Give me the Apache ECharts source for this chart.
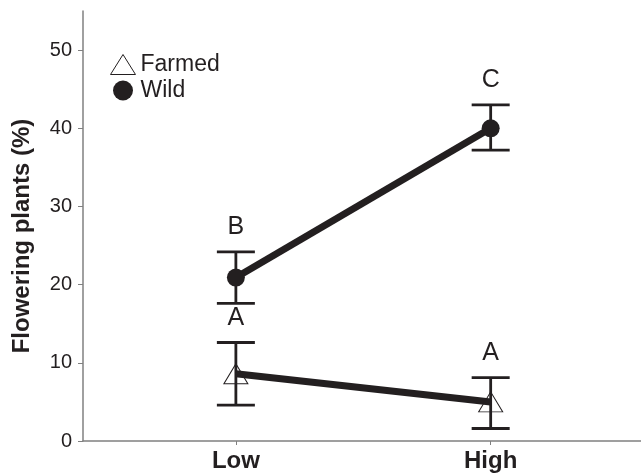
<!DOCTYPE html>
<html>
<head>
<meta charset="utf-8">
<script src="https://cdn.jsdelivr.net/npm/echarts@6/dist/echarts.min.js"></script>
<style>html,body{margin:0;padding:0;background:#fff}#c{width:641px;height:475px}</style>
</head>
<body>
<div id="c"></div>
<script>
var categories = ['Low', 'High'];
var farmedMean = [8.6, 5.0];
var farmedLow = [4.6, 1.6];
var farmedHigh = [12.6, 8.1];
var farmedLetters = ['A', 'A'];
var wildMean = [20.9, 40.0];
var wildLow = [17.6, 37.2];
var wildHigh = [24.2, 43.0];
var wildLetters = ['B', 'C'];
var yTicks = [0, 10, 20, 30, 40, 50];

var ink = '#231f20';
var font = '"Liberation Sans", Arial, sans-serif';

function pts(mean) { return mean.map(function (v, i) { return [i + 1, v]; }); }
function errData(lo, hi, letters) {
  return lo.map(function (v, i) { return [i + 1, v, hi[i], letters[i]]; });
}
function renderErr(params, api) {
  var x = api.value(0);
  var lo = api.coord([x, api.value(1)]);
  var hi = api.coord([x, api.value(2)]);
  var letter = api.value(3);
  var hw = 19;
  var st = { stroke: ink, lineWidth: 2.8 };
  return {
    type: 'group',
    children: [
      { type: 'line', shape: { x1: lo[0], y1: lo[1], x2: hi[0], y2: hi[1] }, style: st },
      { type: 'line', shape: { x1: lo[0] - hw, y1: lo[1], x2: lo[0] + hw, y2: lo[1] }, style: st },
      { type: 'line', shape: { x1: hi[0] - hw, y1: hi[1], x2: hi[0] + hw, y2: hi[1] }, style: st },
      { type: 'text', x: hi[0], y: hi[1] - 12,
        style: { text: letter, fill: ink, font: '25px ' + font, textAlign: 'center', textVerticalAlign: 'bottom' } }
    ]
  };
}

var chart = echarts.init(document.getElementById('c'));
chart.setOption({
  animation: false,
  backgroundColor: '#fff',
  grid: { left: 83, right: 0, top: 11, bottom: 34, containLabel: false },
  legend: {
    orient: 'vertical', left: 110, top: 53, padding: 0,
    itemWidth: 25, itemHeight: 20, itemGap: 3,
    textStyle: { fontSize: 23, color: ink, fontFamily: font },
    data: [
      { name: 'Farmed', icon: 'triangle', itemStyle: { color: 'rgba(0,0,0,0)', borderColor: ink, borderWidth: 1 } },
      { name: 'Wild', icon: 'circle', itemStyle: { color: ink } }
    ]
  },
  xAxis: {
    type: 'value', min: 0.4, max: 2.59,
    axisLine: { show: true, lineStyle: { color: '#808080', width: 1.5 } },
    axisTick: { show: true, customValues: [1, 2], length: 4, lineStyle: { color: '#808080' } },
    axisLabel: {
      customValues: [1, 2], margin: 8,
      formatter: function (v) { return categories[Math.round(v) - 1] || ''; },
      fontSize: 24, fontWeight: 'bold', color: ink, fontFamily: font
    },
    splitLine: { show: false }
  },
  yAxis: {
    type: 'value', min: 0, max: 55,
    name: 'Flowering plants (%)', nameLocation: 'middle', nameGap: 49,
    nameTextStyle: { fontSize: 24, fontWeight: 'bold', color: ink, fontFamily: font, padding: [0, 20, 0, 0] },
    axisLine: { show: true, lineStyle: { color: '#808080', width: 1.5 } },
    axisTick: { show: true, customValues: yTicks, length: 5, lineStyle: { color: '#808080' } },
    axisLabel: { customValues: yTicks, margin: 11, fontSize: 20, color: ink, fontFamily: font },
    splitLine: { show: false }
  },
  series: [
    { type: 'custom', name: 'errF', renderItem: renderErr, data: errData(farmedLow, farmedHigh, farmedLetters), z: 1, silent: true },
    { type: 'custom', name: 'errW', renderItem: renderErr, data: errData(wildLow, wildHigh, wildLetters), z: 1, silent: true },
    {
      type: 'line', name: 'Farmed', data: pts(farmedMean), z: 3,
      symbol: 'triangle', symbolSize: [24, 20], showAllSymbol: true,
      lineStyle: { color: ink, width: 7 },
      itemStyle: { color: 'rgba(0,0,0,0)', borderColor: ink, borderWidth: 1 }
    },
    {
      type: 'line', name: 'Wild', data: pts(wildMean), z: 3,
      symbol: 'circle', symbolSize: 18, showAllSymbol: true,
      lineStyle: { color: ink, width: 7 },
      itemStyle: { color: ink, borderColor: ink, borderWidth: 0 }
    }
  ]
});
</script>
</body>
</html>
